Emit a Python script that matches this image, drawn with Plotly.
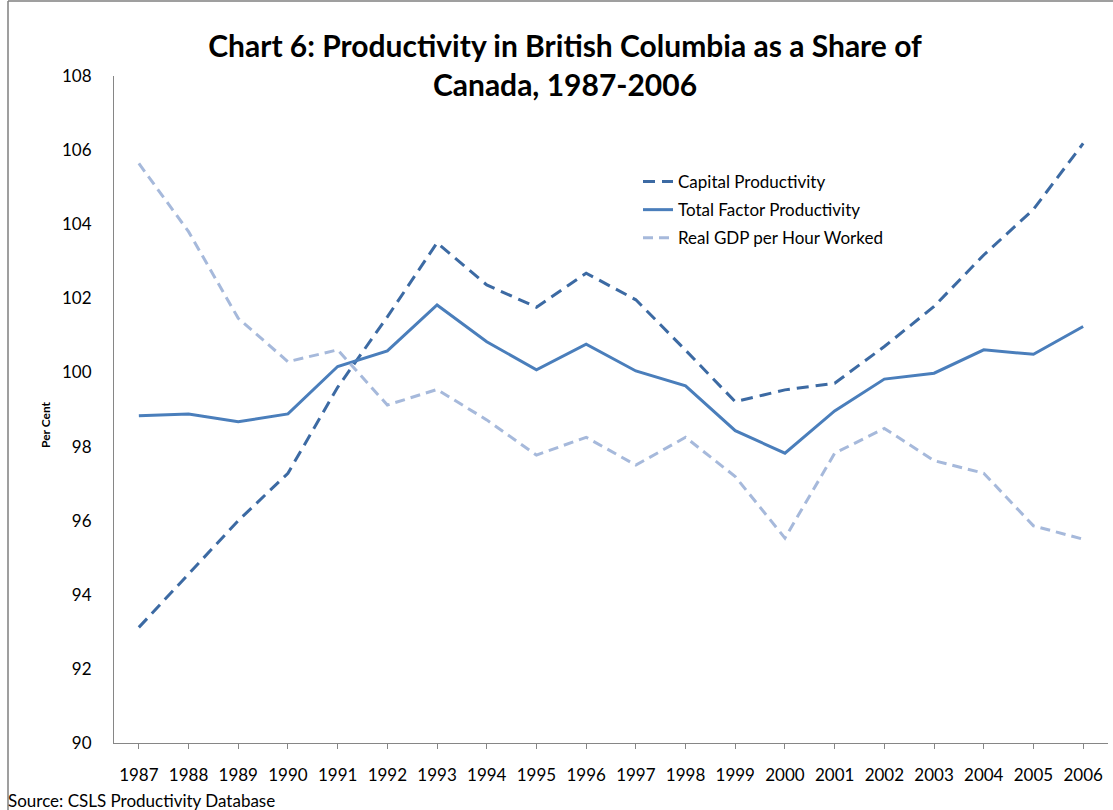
import plotly.graph_objects as go

years = [str(y) for y in range(1987, 2007)]
capital = [93.12, 94.55, 96.0, 97.28, 99.6, 101.5, 103.5, 102.36, 101.76, 102.68,
           101.96, 100.6, 99.21, 99.53, 99.71, 100.70, 101.78, 103.17, 104.40, 106.18]
tfp = [98.83, 98.88, 98.67, 98.88, 100.16, 100.58, 101.82, 100.83, 100.07, 100.76,
       100.04, 99.64, 98.43, 97.82, 98.96, 99.82, 99.98, 100.61, 100.49, 101.24]
gdp = [105.64, 103.80, 101.46, 100.29, 100.61, 99.12, 99.54, 98.72, 97.77, 98.25,
       97.50, 98.25, 97.19, 95.53, 97.82, 98.49, 97.62, 97.28, 95.86, 95.50]
y_ticks = [90, 92, 94, 96, 98, 100, 102, 104, 106, 108]

FONT = "Lato"

fig = go.Figure()
fig.add_trace(go.Scatter(x=years, y=capital, mode="lines", name="Capital Productivity",
                         legendgroup="a",
                         line=dict(color="#3C6AA3", width=3, dash="12px,7px")))
fig.add_trace(go.Scatter(x=years, y=tfp, mode="lines", name="Total Factor Productivity",
                         legendgroup="b",
                         line=dict(color="#4A7EBB", width=3)))
fig.add_trace(go.Scatter(x=years, y=gdp, mode="lines", name="Real GDP per Hour Worked",
                         legendgroup="c",
                         line=dict(color="#A6B9DB", width=3, dash="10px,6px")))

fig.update_layout(
    width=1113, height=810,
    margin=dict(l=114, r=5, t=76, b=67),
    paper_bgcolor="white", plot_bgcolor="white",
    font=dict(family=FONT, size=17, color="black"),
    title=dict(text="<b>Chart 6: Productivity in British Columbia as a Share of<br>Canada, 1987-2006</b>",
               x=565/1113, xanchor="center", xref="container", y=1-57/810, yanchor="middle",
               yref="container",
               font=dict(family=FONT, size=30, color="black")),
    showlegend=True,
    legend=dict(x=(638-114)/994, y=(743-164)/667, xanchor="left", yanchor="top",
                bgcolor="rgba(0,0,0,0)", font=dict(family=FONT, size=17),
                tracegroupgap=3),
    xaxis=dict(type="category", range=[-0.5, 19.5], showgrid=False,
               showline=True, linecolor="#868686", linewidth=1,
               ticks="outside", ticklen=5, tickcolor="#868686",
               ticklabelstandoff=12, tickfont=dict(family=FONT, size=17)),
    yaxis=dict(range=[90, 108], tickvals=y_ticks, showgrid=False,
               showline=True, linecolor="#868686", linewidth=1,
               ticks="", ticklabelstandoff=18, tickfont=dict(family=FONT, size=17),
               zeroline=False),
    annotations=[
        dict(text="<b>Per Cent</b>", xref="paper", yref="paper",
             x=(45-114)/994, y=(743-425)/667, textangle=-90, showarrow=False,
             font=dict(family=FONT, size=12), xanchor="center", yanchor="middle"),
        dict(text="Source: CSLS Productivity Database", xref="paper", yref="paper",
             x=(6-114)/994, y=(743-800)/667, showarrow=False, xanchor="left", yanchor="middle",
             font=dict(family=FONT, size=17)),
    ],
    shapes=[
        dict(type="line", xref="paper", yref="paper", x0=(8-114)/994, x1=(8-114)/994,
             y0=(743-815)/667, y1=(743-1)/667, line=dict(color="#7f7f7f", width=1.5)),
        dict(type="line", xref="paper", yref="paper", x0=(8-114)/994, x1=(1115-114)/994,
             y0=(743-1)/667, y1=(743-1)/667, line=dict(color="#7f7f7f", width=1.5)),
    ],
)

fig.write_html("out.html", config={"displayModeBar": False},
               post_script="document.body.style.margin='0';document.body.style.overflow='hidden';")
